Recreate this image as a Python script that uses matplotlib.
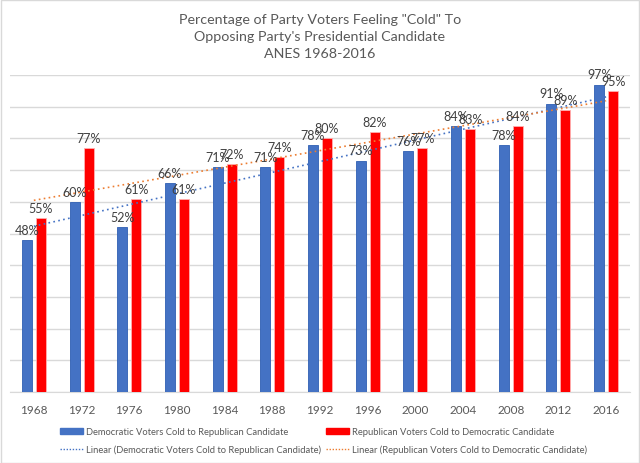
import matplotlib
matplotlib.use("Agg")
import matplotlib.pyplot as plt
import numpy as np
from matplotlib.patches import Patch
from matplotlib.lines import Line2D

years = ["1968", "1972", "1976", "1980", "1984", "1988", "1992", "1996", "2000", "2004", "2008", "2012", "2016"]
dem_cold = [48, 60, 52, 66, 71, 71, 78, 73, 76, 84, 78, 91, 97]
rep_cold = [55, 77, 61, 61, 72, 74, 80, 82, 77, 83, 84, 89, 95]

title = 'Percentage of Party Voters Feeling "Cold" To\nOpposing Party\'s Presidential Candidate\nANES 1968-2016'
dem_label = "Democratic Voters Cold to Republican Candidate"
rep_label = "Republican Voters Cold to Democratic Candidate"

plt.rcParams['font.family'] = ['Lato', 'DejaVu Sans']
txt = '#595959'
blue = '#4472C4'
red = '#FF0000'

fig = plt.figure(figsize=(6.4, 4.64), dpi=100)
fig.patch.set_facecolor('white')
ax = fig.add_axes([10/640, 1-393/464, 620/640, 317/464])

x = np.arange(len(years))
w = 0.21
off = 0.147
ax.bar(x - off, dem_cold, w, color=blue, edgecolor='#2F5FB3', linewidth=0.6, zorder=3)
ax.bar(x + off, rep_cold, w, color=red, edgecolor='#FFB0B0', linewidth=0.6, zorder=3)

for i in range(len(years)):
    ax.text(x[i] - off, dem_cold[i] + 1.3, f"{dem_cold[i]}%", ha='center', va='bottom', fontsize=9, color='#404040', zorder=5)
    ax.text(x[i] + off, rep_cold[i] + 1.3, f"{rep_cold[i]}%", ha='center', va='bottom', fontsize=9, color='#404040', zorder=5)

# linear trendlines
xf = x + 1
pd_ = np.polyfit(xf, dem_cold, 1)
pr_ = np.polyfit(xf, rep_cold, 1)
ax.plot(x, np.polyval(pd_, xf), linestyle=(0, (1, 2)), color='#4472C4', linewidth=1.2, zorder=4)
ax.plot(x, np.polyval(pr_, xf), linestyle=(0, (1, 2)), color='#ED7D31', linewidth=1.2, zorder=4)

ax.set_xlim(-0.5, len(years) - 0.5)
ax.set_ylim(0, 100)
ax.set_yticks(np.arange(0, 101, 10))
ax.set_yticklabels([])
ax.tick_params(axis='y', length=0)
ax.grid(axis='y', color='#D9D9D9', linewidth=1, zorder=0)
ax.set_xticks(x)
ax.set_xticklabels(years, fontsize=8.5, color=txt)
ax.tick_params(axis='x', length=0, pad=9)
for s in ['top', 'right', 'left']:
    ax.spines[s].set_visible(False)
ax.spines['bottom'].set_color('#D9D9D9')

fig.text(0.5, 1 - 37/464, title, ha='center', va='center', fontsize=10.3, color=txt, linespacing=1.45)

handles = [Patch(facecolor=blue, edgecolor=blue),
           Line2D([0], [0], color='#4472C4', linestyle=(0, (1, 1.2)), linewidth=1),
           Patch(facecolor=red, edgecolor=red),
           Line2D([0], [0], color='#ED7D31', linestyle=(0, (1, 1.2)), linewidth=1)]
labels = [dem_label, f"Linear ({dem_label})",
          rep_label, f"Linear ({rep_label})"]
leg = fig.legend(handles, labels, loc='center left', bbox_to_anchor=(52/640, 1 - 441.5/464), ncol=2,
                 frameon=False, fontsize=6.76, handlelength=2.45, handleheight=0.65,
                 handletextpad=0.32, columnspacing=0.5, labelspacing=0.85)
for t in leg.get_texts():
    t.set_color(txt)

# chart border
fig.add_artist(plt.Rectangle((0.001, 0.001), 0.997, 0.997, transform=fig.transFigure,
                             fill=False, edgecolor='#D9D9D9', linewidth=1))

fig.savefig("out.png", dpi=100, facecolor='white')
